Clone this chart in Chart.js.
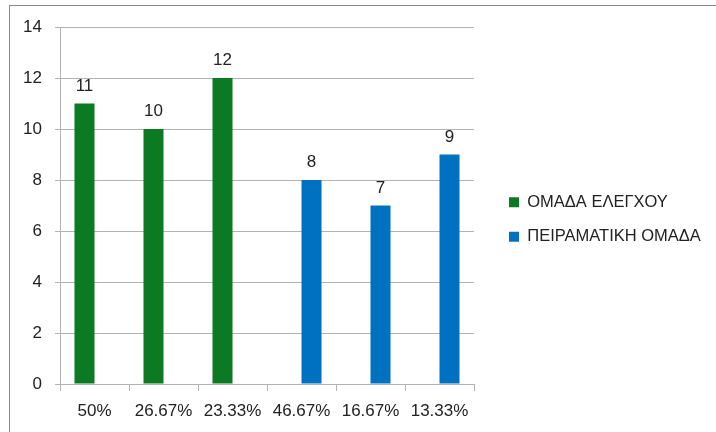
<!DOCTYPE html>
<html>
<head>
<meta charset="utf-8">
<script src="https://cdn.jsdelivr.net/npm/chart.js@4.4.1/dist/chart.umd.min.js"></script>
<style>
  body { margin: 0; background: #fff; }
  #wrap { position: relative; width: 716px; height: 432px; }
  #frame {
    position: absolute; left: 9px; top: 5px; right: 0; bottom: 0;
    border-top: 1px solid #8a8a8a; border-left: 1px solid #8a8a8a;
    pointer-events: none;
  }
</style>
</head>
<body>
<div id="wrap">
  <canvas id="barchart" width="716" height="432"></canvas>
  <div id="frame"></div>
</div>
<script>
// categories and the two groups
const categories = ['50%', '26.67%', '23.33%', '46.67%', '16.67%', '13.33%'];
const control_values = [11, 10, 12, null, null, null];
const experimental_values = [null, null, null, 8, 7, 9];
const series_names = ['ΟΜΑΔΑ ΕΛΕΓΧΟΥ', 'ΠΕΙΡΑΜΑΤΙΚΗ ΟΜΑΔΑ'];

const gridGrey = '#b3b3b3';
Chart.defaults.font.family = "'Liberation Sans', Arial, sans-serif";
Chart.defaults.color = '#222';

// value over each bar
const barLabels = {
  id: 'barLabels',
  afterDatasetsDraw(chart) {
    const ctx = chart.ctx;
    ctx.save();
    ctx.font = "17px 'Liberation Sans', Arial, sans-serif";
    ctx.fillStyle = '#222';
    ctx.textAlign = 'center';
    ctx.textBaseline = 'alphabetic';
    chart.data.datasets.forEach((ds, i) => {
      chart.getDatasetMeta(i).data.forEach((bar, j) => {
        const v = ds.data[j];
        if (v === null || v === undefined) return;
        ctx.fillText(String(v), bar.x, bar.y - 13);
      });
    });
    ctx.restore();
  }
};

// nudge the legend away from the plot and let it run to the canvas edge
const legendShift = {
  id: 'legendShift',
  afterLayout(chart) {
    const lg = chart.legend;
    const dx = 17, dy = -10;
    lg.left += dx;
    lg.top += dy; lg.bottom += dy;
    lg.right = chart.width;
    lg.width = lg.right - lg.left;
  }
};

const ctx = document.getElementById('barchart');

new Chart(ctx, {
  type: 'bar',
  data: {
    labels: categories,
    datasets: [{
      label: series_names[0],
      data: control_values,
      backgroundColor: '#0b7a22'
    },
    {
      label: series_names[1],
      data: experimental_values,
      backgroundColor: '#0070c0'
    }]
  },
  options: {
    responsive: false,
    animation: false,
    events: [],
    categoryPercentage: 0.58,
    barPercentage: 1,
    layout: { padding: { left: 10, top: 27, right: 82, bottom: 0 } },
    plugins: {
      tooltip: { enabled: false },
      legend: {
        position: 'right',
        maxWidth: 160,
        labels: {
          boxWidth: 10,
          boxHeight: 10,
          padding: 18,
          font: { size: 16.5 },
          color: '#222'
        }
      }
    },
    scales: {
      x: {
        afterFit: (s) => { s.height = 48; },
        grid: { drawOnChartArea: false, color: gridGrey, tickLength: 7 },
        border: { color: gridGrey },
        ticks: { font: { size: 17 }, padding: 10, maxRotation: 0 }
      },
      y: {
        min: 0,
        max: 14,
        afterFit: (s) => { s.width = 50; },
        grid: { color: gridGrey, tickLength: 5 },
        border: { color: gridGrey },
        ticks: { stepSize: 2, font: { size: 17 }, padding: 13 }
      }
    }
  },
  plugins: [barLabels, legendShift]
});
</script>
</body>
</html>
